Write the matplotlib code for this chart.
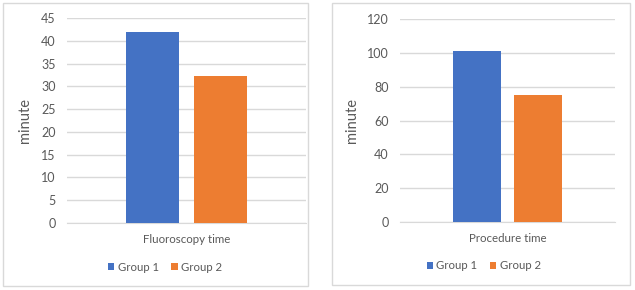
import matplotlib.pyplot as plt
from matplotlib.patches import Rectangle

groups = ["Group 1", "Group 2"]
colors = ["#4472C4", "#ED7D31"]

fluoro_label = "Fluoroscopy time"
fluoro_values = [42.0, 32.3]
fluoro_ticks = [0, 5, 10, 15, 20, 25, 30, 35, 40, 45]

proc_label = "Procedure time"
proc_values = [101.3, 75.3]
proc_ticks = [0, 20, 40, 60, 80, 100, 120]

W, H = 635, 290
plt.rcParams["font.family"] = ["Lato", "DejaVu Sans"]
text_color = "#595959"


def px_axes(fig, x0, y0, x1, y1):
    # pixel box (top-left origin) -> figure fraction
    return fig.add_axes([x0 / W, 1 - y1 / H, (x1 - x0) / W, (y1 - y0) / H])


def panel(fig, box, area, label, values, ticks, ylab_x, leg_x):
    fig.patches.append(Rectangle((box[0] / W, 1 - box[3] / H),
                                 (box[2] - box[0]) / W, (box[3] - box[1]) / H,
                                 transform=fig.transFigure, fill=False,
                                 edgecolor="#D9D9D9", linewidth=1))
    ax = px_axes(fig, *area)
    bar_x = [0.358, 0.642]
    for i, (g, v) in enumerate(zip(groups, values)):
        ax.bar(bar_x[i], v, width=0.222, color=colors[i], label=g, zorder=3)
    ax.set_xlim(0, 1)
    ax.set_ylim(ticks[0], ticks[-1])
    ax.set_yticks(ticks)
    ax.set_xticks([0.5])
    ax.set_xticklabels([label])
    ax.yaxis.grid(True, color="#D9D9D9", linewidth=1, zorder=0)
    for s in ["top", "right", "left"]:
        ax.spines[s].set_visible(False)
    ax.spines["bottom"].set_color("#D9D9D9")
    ax.tick_params(axis="y", length=0, labelsize=9, colors=text_color, pad=8)
    ax.tick_params(axis="x", length=0, labelsize=8.3, colors=text_color, pad=8)
    ax.set_ylabel("minute", fontsize=10.5, color=text_color)
    ax.yaxis.set_label_coords(ylab_x, 0.5)
    ax.legend(loc="center", bbox_to_anchor=(leg_x, -0.215), ncol=2,
              frameon=False, fontsize=8.2, handlelength=0.55, handleheight=0.55,
              columnspacing=1.1, handletextpad=0.3, labelcolor=text_color,
              borderaxespad=0, borderpad=0)
    return ax


fig = plt.figure(figsize=(W / 100, H / 100), dpi=100)

panel(fig, (3, 3, 308, 286), (67, 18, 306, 223), fluoro_label, fluoro_values,
      fluoro_ticks, -0.146, 0.41)
panel(fig, (332, 3, 630, 285), (400, 19, 615, 222), proc_label, proc_values,
      proc_ticks, -0.19, 0.39)

fig.savefig("out.png", dpi=100)
